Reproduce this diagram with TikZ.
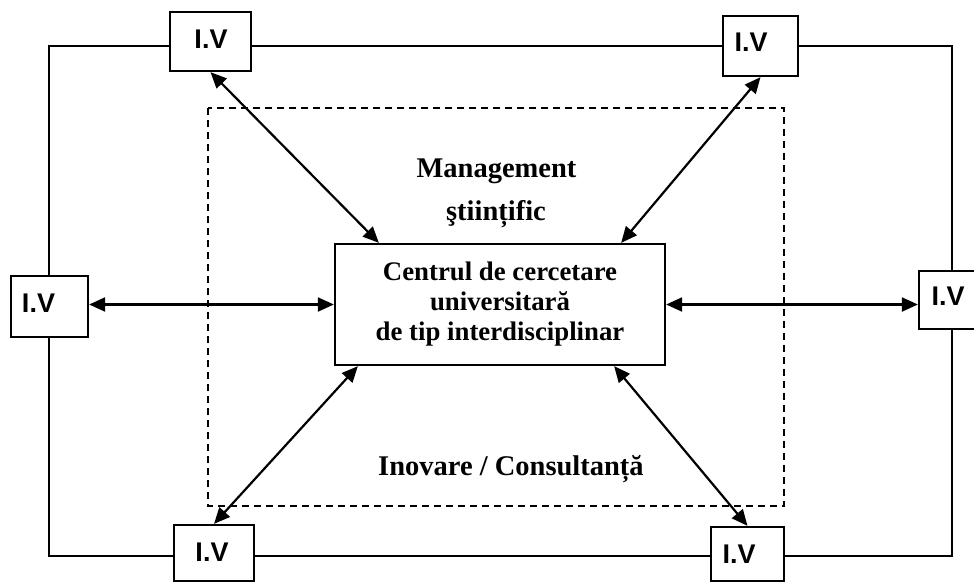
\documentclass[tikz,border=0pt]{standalone}
\usepackage{fontspec}
\setmainfont{Liberation Serif}
\newfontfamily\ivfont{Liberation Sans}
\usetikzlibrary{arrows.meta}
\begin{document}
\begin{tikzpicture}[x=1pt,y=-1pt,
  frame/.style={line width=2.3pt},
  dashframe/.style={line width=2pt, dash pattern=on 7pt off 5pt},
  ivbox/.style={draw, line width=2.3pt, fill=white, inner sep=0pt},
  ivtext/.style={font=\ivfont\fontsize{27}{30}\selectfont\bfseries, inner sep=0pt},
  mainbox/.style={draw, line width=2.3pt, fill=white, inner sep=0pt, align=center,
    font=\fontsize{26.8}{30}\selectfont\bfseries},
  lbl/.style={font=\fontsize{28.5}{33}\selectfont\bfseries, anchor=base, inner sep=0pt},
  dbl/.style={line width=2.2pt, {Triangle[length=16pt,width=14pt]}-{Triangle[length=16pt,width=14pt]}}
]
\useasboundingbox (0,0) rectangle (974,581);
\fill[white] (0,0) rectangle (974,581);
% outer frame
\draw[frame] (49,46) rectangle (952,556);
% dashed frame
\draw[dashframe] (208,108) rectangle (784,506);
% I.V boxes
\node[ivbox, minimum width=81pt, minimum height=59pt,
  label={[ivtext, xshift=0.5pt, yshift=2.5pt]center:I.V}] (tl) at (210.5,41.5) {};
\node[ivbox, minimum width=75pt, minimum height=60pt,
  label={[ivtext, xshift=-9.5pt, yshift=3.5pt]center:I.V}] (tr) at (760.5,46) {};
\node[ivbox, minimum width=77pt, minimum height=61pt,
  label={[ivtext, xshift=-11pt, yshift=3.5pt]center:I.V}] (l) at (49.5,306.5) {};
\node[ivbox, minimum width=58pt, minimum height=58pt,
  label={[ivtext, yshift=3.5pt]center:I.V}] (r) at (948,300) {};
\node[ivbox, minimum width=80pt, minimum height=56pt,
  label={[ivtext, xshift=-2pt, yshift=0.5pt]center:I.V}] (bl) at (214,553) {};
\node[ivbox, minimum width=73pt, minimum height=54pt,
  label={[ivtext, xshift=-8.5pt]center:I.V}] (br) at (747.5,554) {};
% central box
\node[mainbox, minimum width=330pt, minimum height=121pt] (ctr) at (500,304.5)
  {Centrul de cercetare\\universitară\\de tip interdisciplinar};
% labels
\node[lbl] (m1) at (496.5,177) {Management};
\node[lbl] (m2) at (496,220) {ştiințific};
\node[lbl] (ic) at (511,475) {Inovare / Consultanță};
% arrows
\draw[dbl] (tl.south) -- ([xshift=45pt]ctr.north west);
\draw[dbl] (tr.south) -- ([xshift=-45pt]ctr.north east);
\draw[dbl] (l.east |- ctr.west) -- (ctr.west);
\draw[dbl] (ctr.east) -- (r.west |- ctr.east);
\draw[dbl] ([xshift=24pt]ctr.south west) -- (bl.north);
\draw[dbl] ([xshift=-52pt]ctr.south east) -- (br.north);
\end{tikzpicture}
\end{document}
